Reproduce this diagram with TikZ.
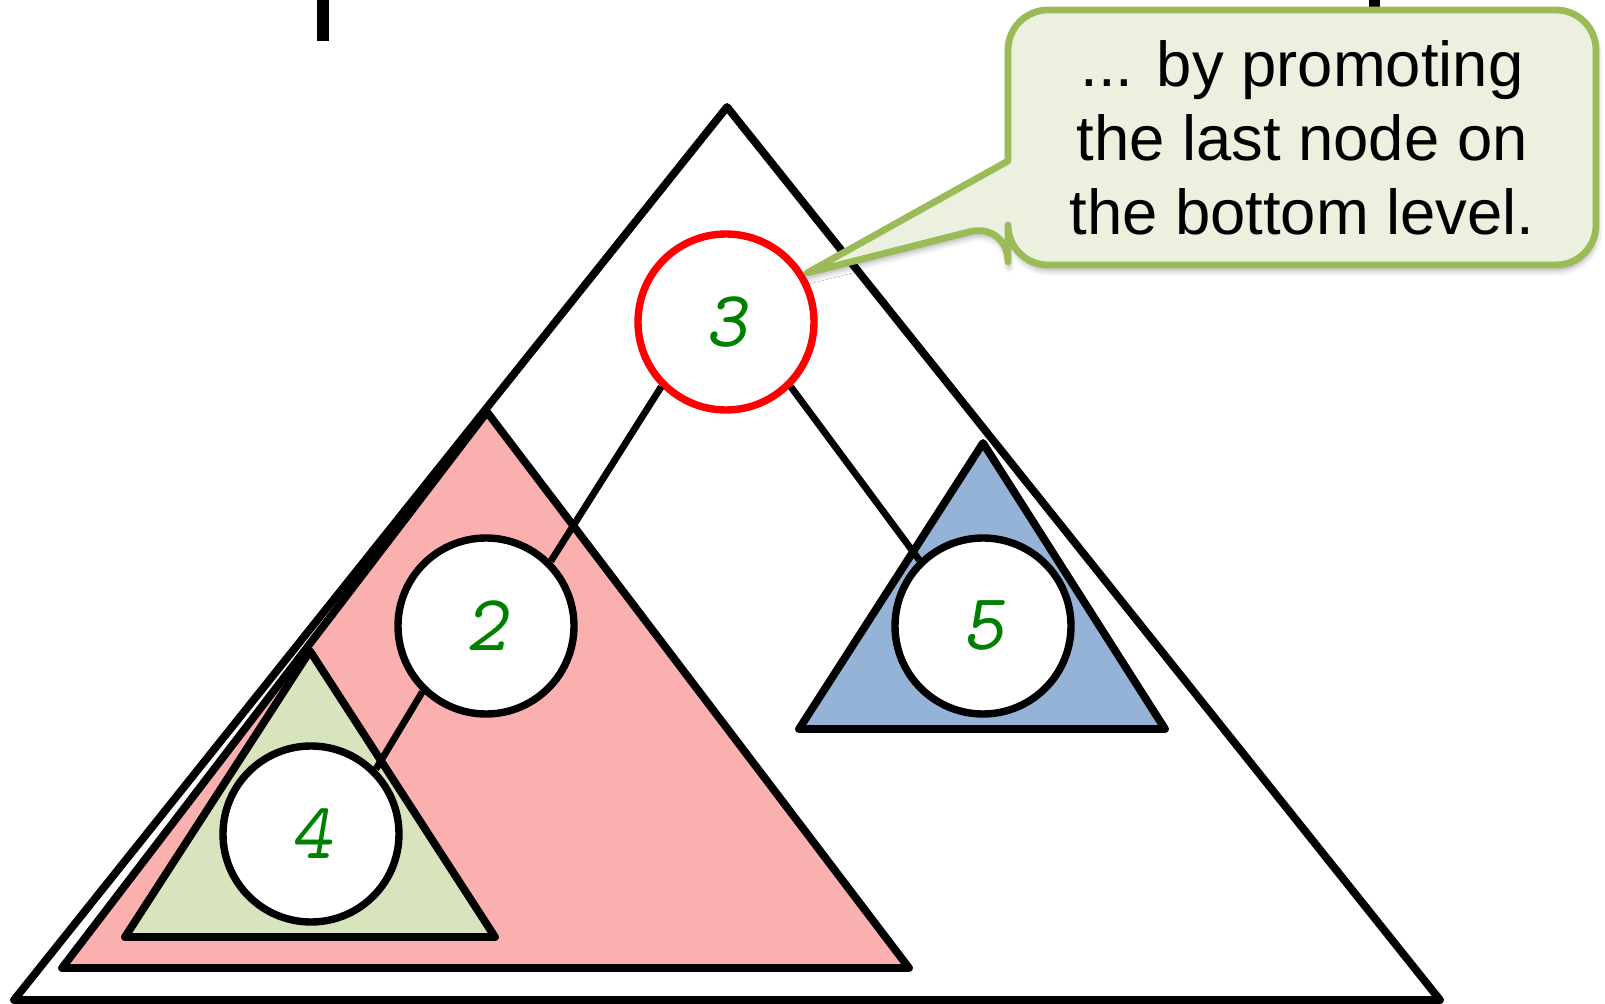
\documentclass[tikz,border=0pt]{standalone}
\usepackage{fontspec}
\setmainfont{Liberation Sans}
\usetikzlibrary{shadows.blur}
\definecolor{heapred}{RGB}{255,0,0}
\definecolor{keygreen}{RGB}{0,128,0}
\definecolor{leftpink}{RGB}{251,176,176}
\definecolor{leafgreen}{RGB}{215,228,189}
\definecolor{rightblue}{RGB}{149,179,215}
\definecolor{notefill}{RGB}{235,241,222}
\definecolor{noteline}{RGB}{155,187,89}
\newcommand{\keyfont}{\fontsize{40pt}{42pt}\selectfont\ttfamily\slshape}

\begin{document}
\begin{tikzpicture}[x=0.5pt,y=-0.5pt,line join=round,
    subtree/.style={draw=black,line width=3.9pt},
    key/.style={circle,draw=black,fill=white,line width=3.7pt,minimum size=88pt,
      inner sep=0pt,text=keygreen,font=\keyfont},
    link/.style={draw=black,line width=3.4pt},
    callout/.style={draw=noteline,fill=notefill,line width=3.4pt,
      blur shadow={shadow xshift=0.5pt,shadow yshift=-2.5pt,shadow blur radius=3pt,shadow opacity=35}},
    note/.style={align=center,font=\fontsize{31.7pt}{37pt}\selectfont}]
  \useasboundingbox (0,0) rectangle (1605,1004);
  % cut-off title letters
  \fill (317,0) rectangle (329,41);
  \fill (1369,0) rectangle (1380,12);
  % subtrees
  \draw[subtree,fill=white] (727,107) -- (1440,1000) -- (14,1000) -- cycle;
  \draw[subtree,fill=leftpink] (487,412) -- (909,968) -- (62,968) -- cycle;
  \draw[subtree,fill=leafgreen] (310,651) -- (495,937) -- (125,937) -- cycle;
  \draw[subtree,fill=rightblue] (983,443) -- (1165,729) -- (799,729) -- cycle;
  % heap nodes
  \node[key,draw=heapred] (n3) at (726,322) {3};
  \node[key] (n2) at (486,626) {2};
  \node[key] (n5) at (983,626) {5};
  \node[key] (n4) at (311,834) {4};
  \draw[link] (n3.225) -- (n2.45);
  \draw[link] (n3.-45) -- (n5.134);
  \draw[link] (n2.226) -- (n4.45);
  % callout
  \draw[callout] (1008,161) [rounded corners=20pt] -- (1008,10) -- (1596,10)
    -- (1596,265) -- (1008,265) -- (1008,222) [sharp corners] -- (807,273) -- cycle;
  \node[note] (tip) at (1302,138) {... by promoting\\the last node on\\the bottom level.};
\end{tikzpicture}
\end{document}
